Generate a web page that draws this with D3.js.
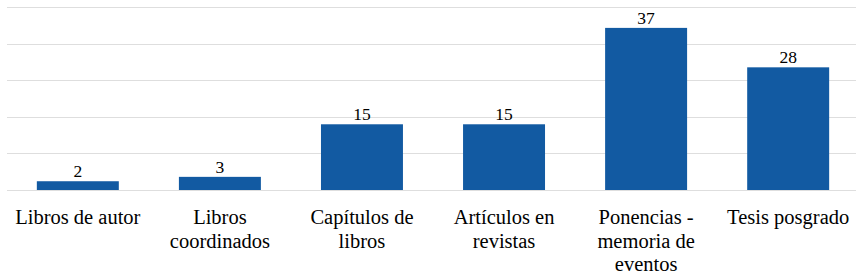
<!DOCTYPE html>
<html>
<head>
<meta charset="utf-8">
<script src="https://cdn.jsdelivr.net/npm/d3@7"></script>
<style>
  html, body { margin: 0; padding: 0; background: #fff; }
  svg { display: block; }
</style>
</head>
<body>
<div id="chart"></div>
<script>
// Producción por tipo - simple column chart
const categories = [
  'Libros de autor',
  'Libros coordinados',
  'Capítulos de libros',
  'Artículos en revistas',
  'Ponencias - memoria de eventos',
  'Tesis posgrado'
];
const values = [2, 3, 15, 15, 37, 28];

// value axis (hidden labels, only gridlines)
const yMax = 41.7;
const gridCount = 5;

const width = 859;
const height = 278;
const margin = { top: 7, right: 0, bottom: 88, left: 7 };
const FONT = "'Liberation Serif'";

const svg = d3.select('#chart')
  .append('svg')
  .attr('width', width)
  .attr('height', height);

const x = d3.scaleBand()
  .domain(categories)
  .range([margin.left, width - margin.right])
  .paddingInner(0.423)
  .paddingOuter(0.21);

const y = d3.scaleLinear()
  .domain([0, yMax])
  .range([height - margin.bottom, margin.top + 0.3]);

const gridTicks = d3.range(gridCount + 1).map(i => i * yMax / gridCount);

// Gridlines
svg.append('g')
  .attr('class', 'grid')
  .selectAll('line')
  .data(gridTicks)
  .join('line')
  .attr('x1', margin.left)
  .attr('x2', width - 3)
  .attr('y1', d => Math.round(y(d)) + 0.5)
  .attr('y2', d => Math.round(y(d)) + 0.5)
  .attr('stroke', '#dedede')
  .attr('stroke-width', 1);

// Bars
svg.append('g')
  .selectAll('rect')
  .data(values)
  .join('rect')
  .attr('x', (d, i) => x(categories[i]))
  .attr('y', d => y(d))
  .attr('width', x.bandwidth())
  .attr('height', d => y(0) - y(d))
  .attr('fill', '#125aa2');

// Value labels
svg.append('g')
  .selectAll('text')
  .data(values)
  .join('text')
  .attr('x', (d, i) => x(categories[i]) + x.bandwidth() / 2)
  .attr('y', d => y(d) - 4)
  .attr('text-anchor', 'middle')
  .attr('font-family', FONT)
  .attr('font-size', 17.5)
  .attr('fill', '#000')
  .text(d => d);

// Category labels, wrapped like the spreadsheet does
const labelG = svg.append('g');
const wrapWidth = 135;
const lineHeight = 23.5;

categories.forEach(name => {
  const cx = x(name) + x.bandwidth() / 2;
  const text = labelG.append('text')
    .attr('x', cx)
    .attr('y', y(0) + 34)
    .attr('text-anchor', 'middle')
    .attr('font-family', FONT)
    .attr('font-size', 20.5)
    .attr('fill', '#000');

  const words = name.split(' ');
  let line = [];
  let tspan = text.append('tspan').attr('x', cx).attr('dy', 0);
  words.forEach(w => {
    line.push(w);
    tspan.text(line.join(' '));
    if (tspan.node().getComputedTextLength() > wrapWidth && line.length > 1) {
      line.pop();
      tspan.text(line.join(' '));
      line = [w];
      tspan = text.append('tspan')
        .attr('x', cx)
        .attr('dy', lineHeight)
        .text(w);
    }
  });
});
</script>
</body>
</html>
